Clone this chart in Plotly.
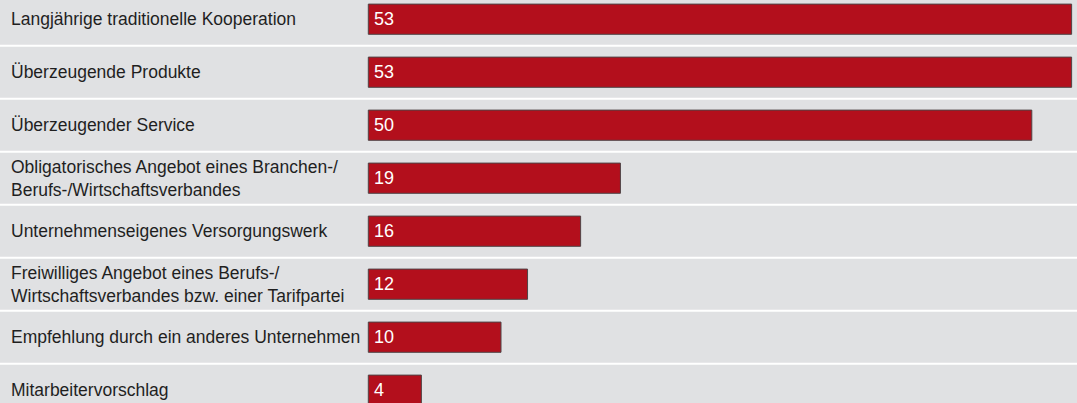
import plotly.graph_objects as go

# Survey answers (percent), top to bottom
categories = [
    "Langjährige traditionelle Kooperation",
    "Überzeugende Produkte",
    "Überzeugender Service",
    "Obligatorisches Angebot eines Branchen-/<br>Berufs-/Wirtschaftsverbandes",
    "Unternehmenseigenes Versorgungswerk",
    "Freiwilliges Angebot eines Berufs-/<br>Wirtschaftsverbandes bzw. einer Tarifpartei",
    "Empfehlung durch ein anderes Unternehmen",
    "Mitarbeitervorschlag",
]
values = [53, 53, 50, 19, 16, 12, 10, 4]

W, H = 1077, 403
BAR_RED = "#b30f1c"
ROW_GRAY = "#e0e1e3"
FONT = "Liberation Sans, Arial, sans-serif"

rows = list(range(len(categories)))

fig = go.Figure(
    go.Bar(
        x=values,
        y=rows,
        orientation="h",
        width=0.57,
        marker=dict(color=BAR_RED, line=dict(color="#4f4446", width=1)),
        hoverinfo="skip",
    )
)

# grey row bands separated by thin white gaps
gap = 0.02
shapes = []
for r in rows:
    shapes.append(
        dict(
            type="rect", xref="paper", yref="y",
            x0=0, x1=1, y0=r - 0.5 + gap, y1=r + 0.5 - gap,
            fillcolor=ROW_GRAY, line=dict(width=0), layer="below",
        )
    )

annotations = []
# left-aligned category labels
for r, c in zip(rows, categories):
    annotations.append(
        dict(
            xref="paper", yref="y", x=9 / W, y=r,
            text=c, showarrow=False, xanchor="left", yanchor="middle",
            align="left", font=dict(family=FONT, size=17.5, color="#1f1f1f"),
        )
    )
# value labels at the start of each bar
for r, v in zip(rows, values):
    annotations.append(
        dict(
            xref="x", yref="y", x=0, y=r, xshift=4,
            text=str(v), showarrow=False, xanchor="left", yanchor="middle",
            font=dict(family=FONT, size=18, color="white"),
        )
    )

px_per_unit = 13.27
x0_px = 368.3
row_px = 53.0
first_center_px = 19.2

fig.update_layout(
    width=W, height=H,
    margin=dict(l=0, r=0, t=0, b=0),
    paper_bgcolor="white",
    plot_bgcolor="white",
    showlegend=False,
    shapes=shapes,
    annotations=annotations,
    xaxis=dict(
        range=[-x0_px / px_per_unit, (W - x0_px) / px_per_unit],
        visible=False, fixedrange=True,
    ),
    yaxis=dict(
        range=[(H - first_center_px) / row_px, -first_center_px / row_px],
        visible=False, fixedrange=True,
    ),
)

fig.write_html("out.html", config=dict(displayModeBar=False))
